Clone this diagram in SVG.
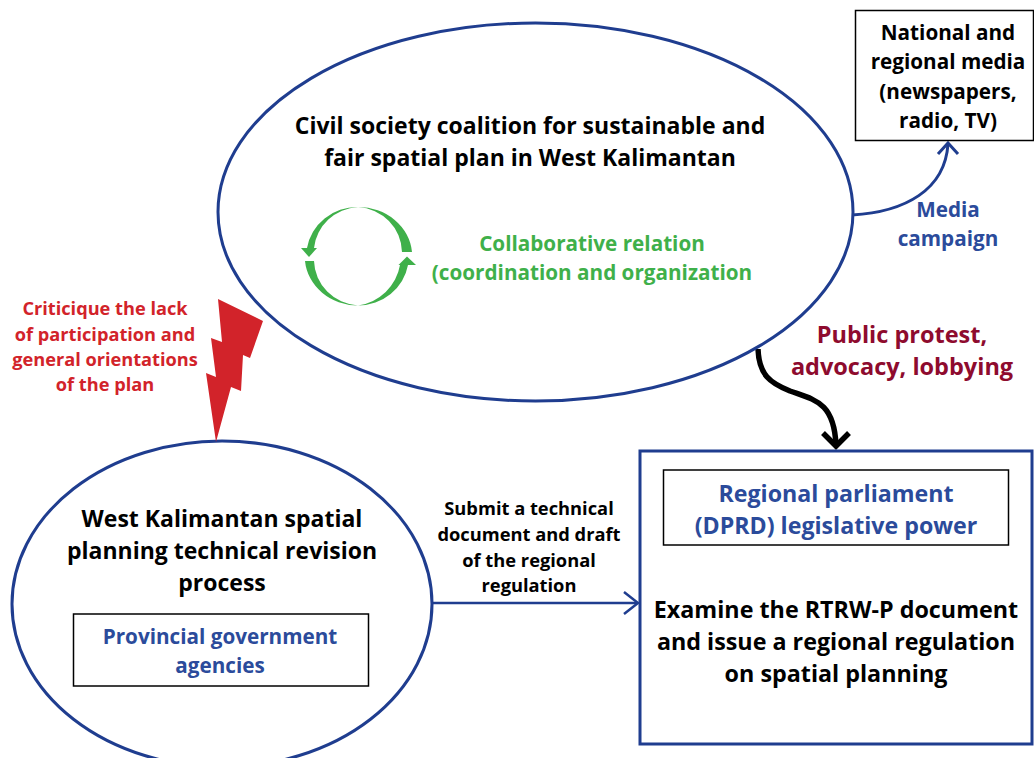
<svg xmlns="http://www.w3.org/2000/svg" width="1034" height="758" viewBox="0 0 1034 758">
<style>
text{font-family:"Open Sans","Noto Sans","Liberation Sans",sans-serif;font-weight:700;text-anchor:middle}
.k{font-size:23px;fill:#000}
.k3{font-size:23.300px;fill:#000}
.k2{font-size:20.700px;fill:#000}
.b{font-size:23.200px;fill:#2b4b9b}
.b2{font-size:20.700px;fill:#2b4b9b}
.g{font-size:20.700px;fill:#3fb04a}
.mc{font-size:20.700px;fill:#2b4b9b}
.r{font-size:18.200px;fill:#d2232a}
.m{font-size:23.500px;fill:#8e0b2e}
.s{font-size:18.300px;fill:#000}
.shape{fill:#fff;stroke:#1f3d8f;stroke-width:3}
.frame{fill:none;stroke:#1f3d8f;stroke-width:3}
.box{fill:#fff;stroke:#000;stroke-width:1.500}
.con{fill:none;stroke:#1f3d8f}
.blk{fill:none;stroke:#000;stroke-width:5.500}
.arc{fill:#3fb04a}
</style>
<g id="connectors">
<path class="con" stroke-width="3" d="M852 215C905 212 945 190 948 144"/>
<path class="con" stroke-width="3" d="M938 154L948 143L958 154"/>
<path class="con" stroke-width="2.500" d="M432 603H637"/>
<path class="con" stroke-width="2.500" d="M624 592L638 603L624 614"/>
<path class="blk" d="M758 349C759 375 770 383 790 391C815 400 834 402 836 445"/>
<path class="blk" d="M823 433L836 446L849 433"/>
</g>
<g id="coalition">
<ellipse class="shape" cx="535.500" cy="212" rx="317.500" ry="189"/>
<text class="k" x="530" y="134">Civil society coalition for sustainable and</text>
<text class="k" x="530" y="166">fair spatial plan in West Kalimantan</text>
<path class="arc" d="M358 207A51 49 0 0 0 307 248H314A47 46 0 0 1 358 207Z"/>
<path class="arc" d="M301 248H317L309 257Z"/>
<path class="arc" d="M305 261H314A47 46 0 0 0 358 305.500A53 49 0 0 1 305 261Z"/>
<path class="arc" d="M358 207A54 49 0 0 1 412 252H402A47 46 0 0 0 358 207Z"/>
<path class="arc" d="M358 305.500A50 49 0 0 0 400 265H408A51 49 0 0 1 358 305.500Z"/>
<path class="arc" d="M398.500 265H416L407 256.500Z"/>
<text class="g" x="592" y="251">Collaborative relation</text>
<text class="g" x="592" y="280">(coordination and organization</text>
</g>
<g id="media">
<rect class="box" x="855.500" y="10.500" width="178" height="130"/>
<text class="k2" x="948" y="40">National and</text>
<text class="k2" x="948" y="69">regional media</text>
<text class="k2" x="948" y="99">(newspapers,</text>
<text class="k2" x="948" y="128">radio, TV)</text>
</g>
<text class="mc" x="948" y="217">Media</text>
<text class="mc" x="948" y="246">campaign</text>
<text class="m" x="902" y="343">Public protest,</text>
<text class="m" x="902" y="375">advocacy, lobbying</text>
<text class="r" x="105" y="315">Criticique the lack</text>
<text class="r" x="105" y="341">of participation and</text>
<text class="r" x="105" y="366">general orientations</text>
<text class="r" x="105" y="391">of the plan</text>
<g id="technical">
<ellipse class="shape" cx="222" cy="604" rx="210" ry="163"/>
<text class="k" x="222" y="527">West Kalimantan spatial</text>
<text class="k" x="222" y="559">planning technical revision</text>
<text class="k" x="222" y="591">process</text>
<rect class="box" x="73.500" y="614" width="295" height="72"/>
<text class="b2" x="220" y="644">Provincial government</text>
<text class="b2" x="220" y="673">agencies</text>
</g>
<path id="bolt" fill="#d2232a" d="M218 299L263 321L250 358L243 355L241 391L231 387L216 442L206 373L216 377L211 338L222 342Z"/>
<text class="s" x="529" y="515">Submit a technical</text>
<text class="s" x="529" y="541">document and draft</text>
<text class="s" x="529" y="567">of the regional</text>
<text class="s" x="529" y="592">regulation</text>
<g id="parliament">
<rect class="frame" x="640" y="451" width="392" height="293"/>
<rect class="box" x="663.500" y="470" width="345" height="75"/>
<text class="b" x="836" y="502">Regional parliament</text>
<text class="b" x="836" y="534">(DPRD) legislative power</text>
<text class="k3" x="836" y="618">Examine the RTRW-P document</text>
<text class="k3" x="836" y="650">and issue a regional regulation</text>
<text class="k3" x="836" y="682">on spatial planning</text>
</g>
</svg>
